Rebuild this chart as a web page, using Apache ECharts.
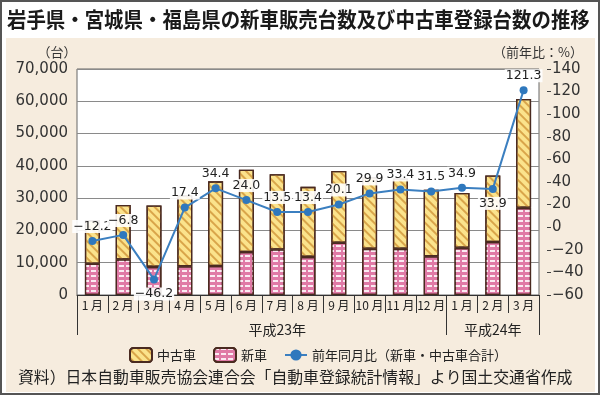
<!DOCTYPE html>
<html><head><meta charset="utf-8">
<script src="https://cdn.jsdelivr.net/npm/echarts@6/dist/echarts.min.js"></script>
<style>html,body{margin:0;padding:0;background:#fff}#c{width:600px;height:395px}</style>
</head><body><div id="c"></div>
<script>
const months = ['1 月','2 月','3 月','4 月','5 月','6 月','7 月','8 月','9 月','10 月','11 月','12 月','1 月','2 月','3 月'];
const years = ['平成23年','平成24年'];
const newCars = [9700, 11000, 8700, 8900, 9000, 13300, 14100, 11800, 16200, 14300, 14300, 12000, 14600, 16400, 27000];
const usedCars = [13500, 16900, 19000, 22000, 26200, 25500, 23300, 21700, 22200, 22200, 21800, 20600, 17000, 20600, 33700];
const yoy = [-12.2, -6.8, -46.2, 17.4, 34.4, 24.0, 13.5, 13.4, 20.1, 29.9, 33.4, 31.5, 34.9, 33.9, 121.3];
const seriesNames = ['中古車', '新車', '前年同月比（新車・中古車合計）'];
const titleText = '岩手県・宮城県・福島県の新車販売台数及び中古車登録台数の推移';
const sourceText = '資料）日本自動車販売協会連合会「自動車登録統計情報」より国土交通省作成';
const leftUnit = '（台）';
const rightUnit = '（前年比：%）';

const labelBelow = [2, 13];
const CJK = '"Noto Sans CJK JP", sans-serif';
const NUM = '"DejaVu Sans", sans-serif';
const fmtPct = v => (v < 0 ? '\u2212' : '') + Math.abs(v).toFixed(1);

const chart = echarts.init(document.getElementById('c'), null, {renderer: 'canvas'});
chart.setOption({
  animation: false,
  graphic: [
    {type: 'rect', z: -20, shape: {x: 1, y: 1, width: 598, height: 393}, style: {fill: '#fff', stroke: '#555', lineWidth: 2}},
    {type: 'rect', z: -19, shape: {x: 6, y: 38, width: 589, height: 354}, style: {fill: '#f6ecde'}},
    {type: 'text', z: 5, x: 7, y: 9, scaleX: 0.925, originX: 0, style: {text: titleText, font: 'bold 21px ' + CJK, fill: '#1a1a1a'}},
    {type: 'text', z: 5, x: 57, y: 52, style: {text: leftUnit, font: '13px ' + CJK, fill: '#333', align: 'center', verticalAlign: 'middle'}},
    {type: 'text', z: 5, x: 538, y: 52, style: {text: rightUnit, font: '13px ' + CJK, fill: '#333', align: 'center', verticalAlign: 'middle'}},
    {type: 'text', z: 5, x: 18, y: 377, scaleX: 0.99, originX: 0, style: {text: sourceText, font: '16px ' + CJK, fill: '#222', verticalAlign: 'middle'}}
  ],
  legend: {
    left: 124, top: 342,
    itemWidth: 22, itemHeight: 14, itemGap: 17,
    textStyle: {fontSize: 13, fontFamily: CJK, color: '#222'},
    data: seriesNames
  },
  grid: {left: 77, right: 61, top: 69, bottom: 100, show: true, backgroundColor: '#fff', borderColor: '#666', borderWidth: 1},
  xAxis: [
    {
      type: 'category', data: months,
      axisLine: {onZero: false, lineStyle: {color: '#333', width: 1}},
      axisTick: {show: true, interval: 0, length: 18, lineStyle: {color: '#333'}},
      axisLabel: {interval: 0, fontSize: 12, fontFamily: CJK, color: '#222', margin: 4}
    },
    {
      type: 'value', min: 0, max: 15, position: 'bottom',
      axisLine: {show: false, onZero: false}, splitLine: {show: false},
      axisTick: {show: true, customValues: [0, 12, 15], length: 40, lineStyle: {color: '#333'}},
      axisLabel: {customValues: [6.5, 13.5], formatter: v => (v < 12 ? years[0] : years[1]), margin: 28, fontSize: 14, fontFamily: CJK, color: '#222'}
    }
  ],
  yAxis: [
    {
      type: 'value', min: 0, max: 70000, interval: 10000,
      axisLine: {show: false}, axisTick: {show: false},
      splitLine: {lineStyle: {color: '#8a8a8a', width: 1}},
      axisLabel: {fontSize: 15, fontFamily: NUM, color: '#333', margin: 9, formatter: v => v.toLocaleString('en-US')}
    },
    {
      type: 'value', min: -60, max: 140, interval: 20, position: 'right', offset: 8,
      axisLine: {show: false},
      axisTick: {show: true, length: 4, lineStyle: {color: '#444'}},
      splitLine: {show: false},
      axisLabel: {fontSize: 15, fontFamily: NUM, color: '#333', margin: 5, formatter: v => (v < 0 ? '\u2212' + Math.abs(v) : '' + v)}
    }
  ],
  series: [
    {
      name: seriesNames[1], type: 'bar', stack: 'cars', barWidth: 15, data: newCars,
      itemStyle: {
        color: '#e07aa6', borderColor: '#4a2a20', borderWidth: 1.3,
        decal: {symbol: 'rect', symbolSize: 1, color: 'rgba(255,255,255,0.85)', dashArrayX: [5, 2], dashArrayY: [1.5, 2.5], rotation: 0}
      }
    },
    {
      name: seriesNames[0], type: 'bar', stack: 'cars', barWidth: 15, data: usedCars,
      itemStyle: {
        color: '#fbe38c', borderColor: '#4a2a20', borderWidth: 1.3,
        decal: {symbol: 'rect', symbolSize: 1, color: '#d9a54a', dashArrayX: [1, 0], dashArrayY: [2, 4], rotation: Math.PI / 4}
      }
    },
    {
      name: seriesNames[2], type: 'line', xAxisIndex: 0, yAxisIndex: 1,
      symbol: 'circle', symbolSize: 8,
      lineStyle: {color: '#3b7fc0', width: 2},
      itemStyle: {color: '#2f78bd'},
      z: 5,
      label: {
        show: true, position: 'top', distance: 4, fontSize: 12.5, fontFamily: NUM, color: '#222',
        backgroundColor: 'rgba(255,255,255,0.9)', padding: [0, 1],
        formatter: p => fmtPct(p.value)
      },
      data: yoy.map((v, i) => labelBelow.includes(i) ? {value: v, label: {position: 'bottom'}} : v)
    }
  ]
});
</script>
</body></html>
